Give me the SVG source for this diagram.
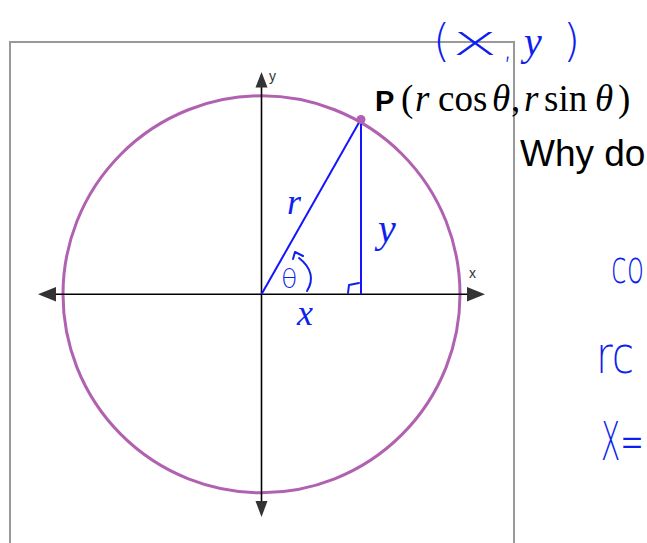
<svg xmlns="http://www.w3.org/2000/svg" width="647" height="543" viewBox="0 0 647 543">
<style>
.axis{stroke:#000;stroke-width:1.6;fill:none}
.head{fill:#333}
.lbl{font-family:"Liberation Sans",Arial,sans-serif;font-size:14px;fill:#333}
.blue{stroke:#1414ff;stroke-width:2;fill:none}
.ink{fill:#0f1fee;font-family:"Liberation Serif","DejaVu Serif",serif;font-style:italic}
.ink2{fill:#0f1fee;font-family:"DejaVu Sans","Liberation Sans",sans-serif;font-weight:200}
.inkline{stroke:#0f1fee;stroke-width:2;fill:none;stroke-linecap:round;stroke-linejoin:round}
.math{font-family:"Liberation Serif","Times New Roman",serif;font-size:37px;fill:#000}
</style>
<rect width="647" height="543" fill="#fff"/>
<rect id="frame" x="10" y="42" width="504" height="530" fill="none" stroke="#999" stroke-width="2"/>
<g id="circle">
<circle cx="261.5" cy="294.3" r="198.5" fill="none" stroke="#b061b0" stroke-width="3"/>
</g>
<g id="connectors">
<line class="axis" x1="50" y1="294.3" x2="472" y2="294.3"/>
<line class="axis" x1="261.5" y1="84" x2="261.5" y2="505"/>
<polygon class="head" points="38,294.3 56,287 56,301.6"/>
<polygon class="head" points="485,294.3 467,287 467,301.6"/>
<polygon class="head" points="261.5,72 255.5,87.5 267.5,87.5"/>
<polygon class="head" points="261.5,517 255.5,501 267.5,501"/>
<line class="blue" x1="261.5" y1="294.3" x2="361" y2="119"/>
<line class="blue" x1="361" y1="119" x2="361" y2="294.3"/>
</g>
<g id="axis-labels">
<text class="lbl" x="269" y="81">y</text>
<text class="lbl" x="469" y="278">x</text>
</g>
<g id="point-P">
<circle cx="361" cy="119.5" r="4.5" fill="#b061b0"/>
<text x="375" y="111" font-family="Liberation Sans,Arial,sans-serif" font-weight="bold" font-size="29" fill="#000">P</text>
<text class="math" y="111"><tspan x="401">(</tspan><tspan x="415" font-style="italic">r</tspan><tspan x="438">cos</tspan><tspan x="492" font-style="italic">θ</tspan><tspan x="511">,</tspan><tspan x="524" font-style="italic">r</tspan><tspan x="544">sin</tspan><tspan x="595" font-style="italic">θ</tspan><tspan x="618">)</tspan></text>
</g>
<g id="question">
<text x="520" y="166" font-family="Liberation Sans,Arial,sans-serif" font-size="37" fill="#000">Why do</text>
</g>
<g id="annotations">
<text class="ink2" x="433" y="56" font-size="44">(</text>
<text class="ink2" x="452" y="55" font-size="42" textLength="46" lengthAdjust="spacingAndGlyphs">x</text>
<text class="ink2" x="503" y="58" font-size="30">,</text>
<text class="ink" x="524" y="55" font-size="40">y</text>
<text class="ink2" x="563" y="56" font-size="44">)</text>
<text class="ink" x="287" y="214" font-size="36">r</text>
<text class="ink" x="378" y="242" font-size="40">y</text>
<text class="ink2" x="281" y="288" font-size="27">θ</text>
<path class="inkline" d="M299,258 C312,268 314,280 307,291"/>
<path class="inkline" d="M293,259 L295,252 L303,256"/>
<path class="inkline" d="M348,293 L349,285 L359,283"/>
<text class="ink" x="297" y="325" font-size="36">x</text>
<text class="ink2" transform="translate(611,283) scale(0.62,1)" font-size="46">co</text>
<text class="ink2" transform="translate(596,373) scale(0.78,1)" font-size="52">rc</text>
<text class="ink2" transform="translate(601,460) scale(0.52,1)" font-size="54">X=</text>
</g>
</svg>
